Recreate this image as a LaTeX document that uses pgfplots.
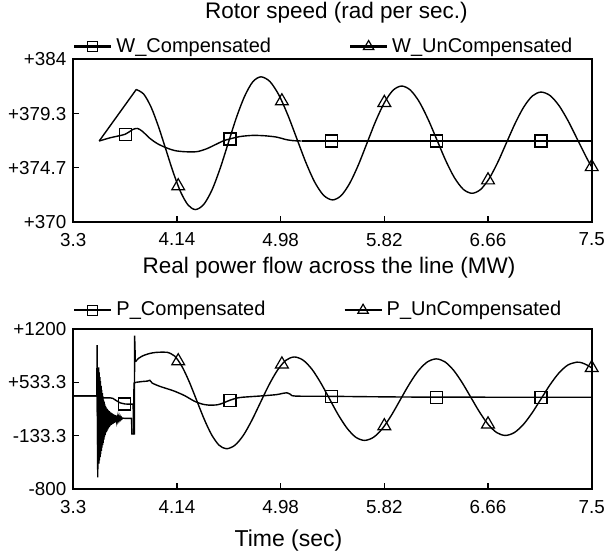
\documentclass[border=0pt]{standalone}
\usepackage{fontspec}
\setmainfont{Liberation Sans}
\usepackage{pgfplots}
\pgfplotsset{compat=1.18}
\newcommand{\titlefont}{\fontsize{11.25}{13}\selectfont}
\newcommand{\legfont}{\fontsize{10}{12}\selectfont}
\newcommand{\tickfont}{\fontsize{9.4}{11}\selectfont}
\begin{document}
\begin{tikzpicture}
\useasboundingbox (-36.65pt,-167pt) rectangle (266.85pt,111pt);
\pgfplotsset{
  myax/.style={
    scale only axis, width=259.2pt, xmin=3.3, xmax=7.5,
    axis line style={line width=0.85pt},
    tick pos=left, tick align=inside, major tick length=3pt,
    tick style={line width=0.6pt, black},
    xtick={3.3,4.14,4.98,5.82,6.66,7.5},
    xticklabels={3.3,4.14,4.98,5.82,6.66,7.5},
    ticklabel style={font=\tickfont},
    xticklabel style={yshift=-2pt},
    legend style={draw=none, fill=none, at={(0,1)}, anchor=south west,
      inner sep=0pt, outer sep=0pt, legend columns=2, font=\legfont,
      /tikz/every even column/.append style={column sep=37pt}},
    legend cell align=left,
    legend image code/.code={\draw[mark repeat=2,mark phase=2,##1] plot coordinates {(0pt,0pt) (9.25pt,0pt) (18.5pt,0pt)};},
  },
  curve/.style={black, line width=0.7pt, forget plot},
  sq/.style={only marks, mark=square, mark size=3pt, mark options={black, line width=0.6pt}, forget plot},
  tri/.style={only marks, mark=triangle, mark size=3.7pt, mark options={black, line width=0.6pt}, forget plot},
}
% ---------------- Rotor speed ----------------
\begin{axis}[myax, at={(0,0)}, anchor=south west, height=81.35pt,
  ymin=370, ymax=384,
  ytick={370,374.6667,379.3333,384},
  yticklabels={+370,+374.7,+379.3,+384},
  title={Rotor speed (rad per sec.)},
  title style={at={(0.5075,1)}, anchor=base, yshift=14.15pt, font=\titlefont},
  legend style={yshift=0pt}]
\addlegendimage{black, line width=1.1pt, mark=square, mark size=2.5pt, mark options={line width=0.6pt}}
\addlegendentry{W\_Compensated}
\addlegendimage{black, line width=1.1pt, mark=triangle, mark size=3pt, mark options={line width=0.6pt}}
\addlegendentry{W\_UnCompensated}
% compensated
\addplot[curve, smooth] coordinates {(3.51,376.97) (3.60,377.25) (3.72,377.55) (3.78,377.95) (3.82,378.05) (3.86,377.8) (3.92,377.2) (3.98,376.75) (4.05,376.4) (4.12,376.15) (4.20,376.05) (4.30,376.05) (4.38,376.3) (4.45,376.65) (4.52,377.0) (4.57,377.15) (4.65,377.35) (4.75,377.45) (4.85,377.42) (4.95,377.3) (5.02,377.1) (5.08,377.0) (5.15,376.97)};
\addplot[curve] coordinates {(5.15,376.97) (7.5,376.97)};
% uncompensated
\addplot[curve] coordinates {(3.51,376.97) (3.81,381.4)};
\addplot[curve, smooth] coordinates {(3.81,381.40) (3.87,381.01) (3.93,379.89) (3.99,378.21) (4.05,376.24) (4.11,374.26) (4.17,372.58) (4.23,371.46) (4.29,371.07) (4.356,371.50) (4.423,372.74) (4.489,374.59) (4.555,376.78) (4.621,378.97) (4.688,380.82) (4.754,382.06) (4.82,382.49) (4.8925,382.09) (4.965,380.94) (5.0375,379.22) (5.11,377.20) (5.1825,375.17) (5.255,373.45) (5.3275,372.30) (5.40,371.90) (5.47,372.27) (5.54,373.34) (5.61,374.92) (5.68,376.80) (5.75,378.68) (5.82,380.26) (5.89,381.33) (5.96,381.70) (6.031,381.35) (6.1025,380.35) (6.174,378.85) (6.245,377.09) (6.316,375.32) (6.3875,373.82) (6.459,372.82) (6.53,372.47) (6.60,372.80) (6.67,373.75) (6.74,375.16) (6.81,376.83) (6.88,378.49) (6.95,379.90) (7.02,380.85) (7.09,381.18) (7.164,380.87) (7.2375,379.98) (7.311,378.66) (7.385,377.09) (7.459,375.52) (7.5,374.74)};
\addplot[sq] coordinates {(3.72,377.55) (4.57,377.15) (5.39,376.97) (6.24,376.97) (7.09,376.97)};
\addplot[tri] coordinates {(4.15,373.09) (4.99,380.4) (5.82,380.26) (6.66,373.6) (7.5,374.74)};
\end{axis}
% ---------------- Real power ----------------
\begin{axis}[myax, at={(0,-133.65pt)}, anchor=south west, height=80.15pt,
  ymin=-800, ymax=1200,
  ytick={-800,-133.3333,533.3333,1200},
  yticklabels={-800,-133.3,+533.3,+1200},
  title={Real power flow across the line (MW)},
  title style={at={(0.4933,1)}, anchor=base, yshift=21.5pt, font=\titlefont},
  xlabel={Time (sec)},
  xlabel style={at={(0.415,0)}, anchor=base, yshift=-28.7pt, font=\fontsize{11.5}{13}\selectfont},
  legend style={yshift=3pt}]
\addlegendimage{black, line width=1.1pt, mark=square, mark size=2.5pt, mark options={line width=0.6pt}}
\addlegendentry{P\_Compensated}
\addlegendimage{black, line width=1.1pt, mark=triangle, mark size=3pt, mark options={line width=0.6pt}}
\addlegendentry{P\_UnCompensated}
% compensated transient
\addplot[curve] coordinates {(3.30,365) (3.490,365) (3.493,700) (3.498,-300) (3.505,520) (3.51,120) (3.515,450) (3.52,230) (3.525,380) (3.53,320) (3.54,340) (3.60,340) (3.62,335) (3.65,305) (3.68,278) (3.72,264) (3.785,262) (3.787,-115) (3.792,525) (3.81,535)};
\addplot[curve, smooth] coordinates {(3.81,535) (3.86,545) (3.90,550) (3.92,560) (3.94,525) (4.00,485) (4.06,455) (4.12,424) (4.20,370) (4.28,300) (4.34,265) (4.40,250) (4.47,255) (4.52,280) (4.57,312) (4.64,343) (4.72,354) (4.85,368) (4.95,382) (5.00,398) (5.03,404) (5.06,385) (5.10,363) (5.40,360) (5.70,355) (6.20,350) (7.50,348)};
% uncompensated transient
\addplot[curve] coordinates {(3.30,365) (3.490,365) (3.493,1000) (3.498,-650) (3.505,720) (3.5075,-480) (3.510,660) (3.5125,-440) (3.515,600) (3.5175,-400) (3.520,550) (3.5225,-360) (3.525,490) (3.5275,-320) (3.530,440) (3.5325,-280) (3.535,400) (3.5375,-250) (3.540,360) (3.5425,-220) (3.545,320) (3.5475,-180) (3.550,290) (3.5525,-150) (3.555,265) (3.5575,-125) (3.560,240) (3.5625,-100) (3.565,225) (3.5675,-85) (3.570,210) (3.5725,-70) (3.575,200) (3.5775,-55) (3.580,190) (3.5825,-40) (3.585,182) (3.5875,-30) (3.590,175) (3.5925,-20) (3.595,168) (3.5975,-10) (3.600,160) (3.6025,0) (3.605,155) (3.6075,5) (3.610,150) (3.6125,10) (3.615,145) (3.6175,15) (3.620,140) (3.6225,20) (3.625,135) (3.6275,25) (3.630,130) (3.6325,30) (3.635,127) (3.6375,35) (3.640,124) (3.6425,40) (3.645,121) (3.6475,45) (3.650,118) (3.6525,50) (3.660,110) (3.6625,58) (3.670,104) (3.6725,64) (3.680,98) (3.6825,70) (3.690,93) (3.6925,75) (3.700,88) (3.72,85) (3.772,85) (3.775,-110) (3.795,-110) (3.797,1117) (3.803,790)};
\addplot[curve, smooth] coordinates {(3.803,790) (3.83,835) (3.87,870) (3.92,895) (3.97,908) (4.02,911) (4.06,910) (4.12,864) (4.18,734) (4.24,539) (4.30,308) (4.36,77) (4.42,-118) (4.48,-248) (4.54,-294) (4.609,-251) (4.678,-126) (4.746,59) (4.815,279) (4.884,498) (4.953,683) (5.021,808) (5.09,851) (5.161,812) (5.233,699) (5.304,530) (5.375,331) (5.446,131) (5.518,-38) (5.589,-151) (5.66,-190) (5.7325,-151) (5.805,-41) (5.8775,124) (5.95,319) (6.0225,513) (6.095,678) (6.1675,788) (6.24,827) (6.31,791) (6.38,687) (6.45,532) (6.52,350) (6.59,167) (6.66,12) (6.73,-92) (6.80,-128) (6.8725,-93) (6.945,6) (7.0175,154) (7.09,329) (7.1625,504) (7.235,652) (7.3075,751) (7.38,786) (7.42,778) (7.46,752) (7.5,715)};
\addplot[sq] coordinates {(3.714,264) (4.57,312) (5.39,360) (6.24,350) (7.09,349)};
\addplot[tri] coordinates {(4.15,800) (4.99,760) (5.82,-11) (6.66,12) (7.5,715)};
\end{axis}
\end{tikzpicture}
\end{document}
